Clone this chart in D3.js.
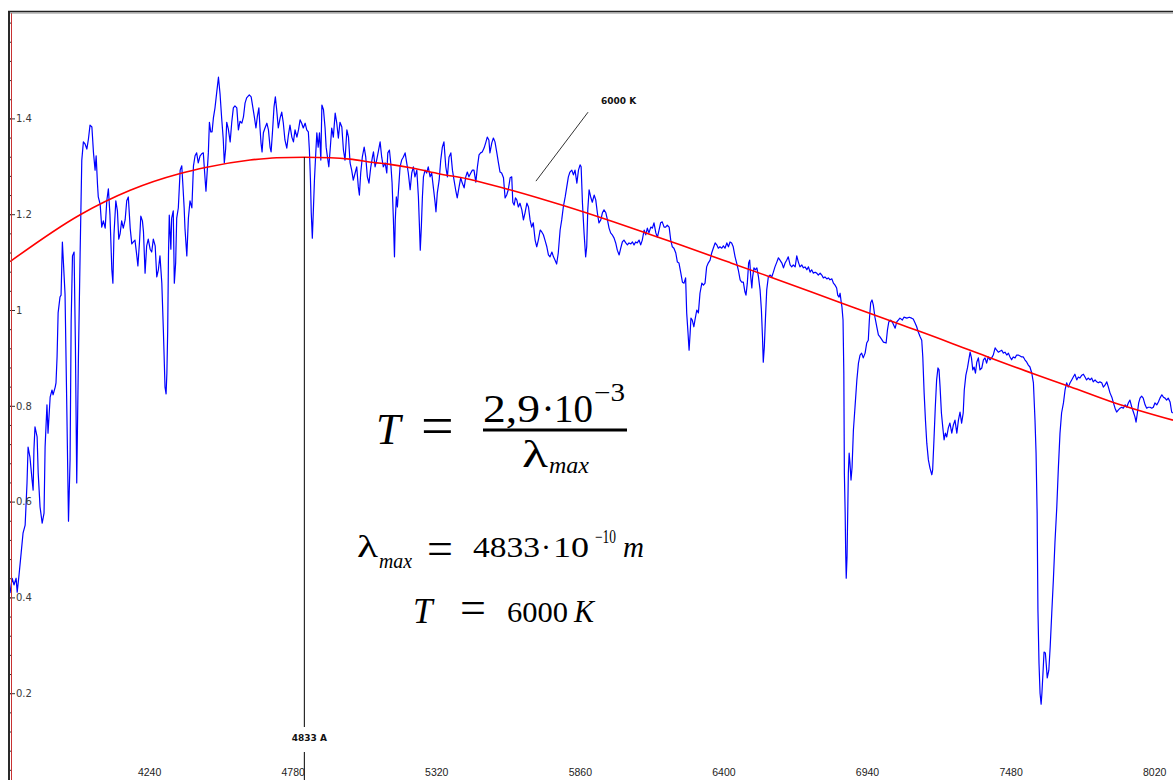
<!DOCTYPE html>
<html>
<head>
<meta charset="utf-8">
<script src="https://cdn.jsdelivr.net/npm/d3@7"></script>
<style>
  html, body { margin: 0; padding: 0; background: #ffffff; }
  svg { display: block; }
</style>
</head>
<body>
<svg id="chart" width="1173" height="780"></svg>
<script>
// Measured stellar spectrum: [wavelength (Å), relative flux]
const spectrum = [
[3726,.409],[3734,.440],[3741,.426],[3749,.440],[3753,.411],[3760,.447],[3768,.493],[3775,.534],[3783,.551],[3790,.639],[3794,.714],[3801,.693],[3809,.645],[3813,.624],[3816,.708],[3820,.756],[3828,.735],[3832,.660],[3839,.589],[3847,.555],[3854,.576],[3858,.714],[3865,.802],[3869,.743],[3877,.818],[3884,.833],[3888,.823],[3896,.839],[3899,.848],[3903,.902],[3907,.994],[3914,1.027],[3918,1.031],
[3923,1.142],[3933,1.033],[3940,.783],[3946,.559],[3952,.689],[3956,.977],[3961,1.113],[3967,1.121],[3972,.927],[3977,.639],[3983,.889],[3990,1.127],[3996,1.313],[4002,1.351],[4008,1.347],[4015,1.336],[4021,1.357],[4027,1.386],[4034,1.382],[4040,1.328],[4046,1.292],[4050,1.322],[4055,1.263],[4058,1.236],[4065,1.221],[4071,1.173],[4077,1.186],[4084,1.171],[4090,1.228],[4096,1.253],[4102,1.198],[4109,1.084],[4113,1.056],[4117,1.157],[4124,1.228],[4130,1.207],[4135,1.148],[4140,1.159],[4146,1.186],[4152,1.171],[4159,1.188],[4165,1.228],[4171,1.236],[4178,1.171],[4184,1.138],[4190,1.142],[4196,1.146],[4203,1.113],[4207,1.092],[4213,1.142],[4218,1.196],[4224,1.186],[4228,1.163],[4234,1.077],[4240,1.134],[4246,1.148],[4253,1.127],[4259,1.121],[4265,1.148],[4272,1.134],[4278,1.069],[4284,1.084],[4290,1.113],[4297,1.056],[4303,.954],[4309,.839],[4313,.825],[4316,.868],[4319,.954],[4322,1.113],[4325,1.198],[4331,1.127],[4334,1.192],[4340,1.207],[4344,1.056],[4349,1.098],[4353,1.192],[4359,1.213],[4366,1.292],[4372,1.301],[4376,1.263],[4381,1.213],[4384,1.171],[4391,1.113],[4397,1.192],[4403,1.228],[4410,1.213],[4416,1.301],[4422,1.322],[4428,1.328],[4434,1.307],[4441,1.322],[4447,1.326],[4453,1.328],[4460,1.271],[4463,1.248],[4468,1.292],[4472,1.328],[4476,1.392],[4481,1.372],[4486,1.372],[4491,1.401],[4497,1.422],[4504,1.457],[4510,1.486],[4516,1.451],[4522,1.401],[4528,1.357],[4532,1.307],[4537,1.336],[4541,1.392],[4547,1.378],[4554,1.351],[4560,1.392],[4566,1.422],[4572,1.426],[4579,1.422],[4585,1.376],[4591,1.394],
[4598,1.390],[4604,1.403],[4610,1.432],[4616,1.443],[4626,1.449],[4633,1.445],[4639,1.424],[4645,1.403],[4651,1.380],[4656,1.403],[4662,1.422],[4666,1.382],[4670,1.349],[4674,1.330],[4679,1.370],[4685,1.380],[4692,1.390],[4698,1.376],[4704,1.340],[4708,1.330],[4713,1.370],[4719,1.424],[4724,1.445],[4729,1.418],[4735,1.380],[4742,1.401],[4748,1.413],[4754,1.390],[4760,1.355],[4767,1.338],[4773,1.365],[4779,1.386],[4786,1.361],[4792,1.351],[4798,1.376],[4805,1.361],[4811,1.376],[4817,1.397],[4823,1.390],[4829,1.380],[4836,1.390],[4842,1.376],[4848,1.372],[4852,1.334],[4856,1.271],[4859,1.203],[4863,1.150],[4867,1.209],[4871,1.271],[4876,1.328],[4880,1.370],[4885,1.340],[4890,1.370],[4895,1.313],[4899,1.428],[4905,1.418],[4911,1.380],[4915,1.340],[4920,1.319],[4925,1.299],[4930,1.334],[4936,1.380],[4942,1.361],[4949,1.411],[4955,1.390],[4961,1.359],[4967,1.392],[4974,1.382],[4980,1.334],[4986,1.313],[4993,1.376],[4999,1.361],[5005,1.307],[5011,1.292],[5017,1.271],[5024,1.286],[5030,1.299],[5036,1.257],[5040,1.240],[5045,1.286],[5051,1.319],[5058,1.340],[5064,1.319],[5070,1.278],[5076,1.265],[5083,1.299],[5089,1.319],[5093,1.330],[5099,1.299],[5105,1.313],[5111,1.330],[5118,1.351],[5124,1.319],[5130,1.299],[5137,1.307],[5143,1.286],[5147,1.328],[5153,1.334],[5158,1.307],[5163,1.265],[5168,1.188],[5172,1.111],[5175,1.188],[5179,1.236],[5183,1.215],[5188,1.257],[5193,1.299],[5199,1.313],[5205,1.319],[5212,1.328],[5218,1.307],[5224,1.286],[5231,1.251],[5237,1.286],[5243,1.299],[5249,1.278],[5256,1.292],[5262,1.236],[5266,1.173],[5269,1.125],[5273,1.173],[5277,1.236],[5281,1.278],[5287,1.292],[5293,1.286],[5299,1.299],[5306,1.278],[5312,1.286],[5318,1.257],[5325,1.223],[5328,1.205],[5333,1.244],[5340,1.271],[5346,1.313],[5352,1.340],[5358,1.351],[5365,1.299],[5371,1.278],[5377,1.319],[5384,1.328],[5390,1.292],[5396,1.271],[5402,1.251],[5408,1.234],[5415,1.257],[5421,1.276],[5427,1.265],[5434,1.255],[5440,1.278],[5446,1.288],[5452,1.278],[5459,1.286],[5465,1.292],[5471,1.292],[5478,1.267],[5484,1.299],[5490,1.324],[5496,1.328],[5502,1.330],[5509,1.338],[5515,1.349],[5521,1.361],[5527,1.355],[5531,1.328],
[5538,1.349],[5544,1.359],[5550,1.351],[5557,1.328],[5563,1.307],[5569,1.288],[5575,1.286],[5582,1.276],[5588,1.234],[5594,1.240],[5600,1.251],[5607,1.276],[5613,1.278],[5617,1.225],[5622,1.219],[5627,1.234],[5632,1.230],[5638,1.215],[5644,1.223],[5651,1.209],[5657,1.188],[5663,1.203],[5670,1.223],[5676,1.215],[5682,1.188],[5688,1.173],[5694,1.182],[5701,1.146],[5707,1.132],[5713,1.146],[5720,1.167],[5726,1.163],[5732,1.157],[5738,1.146],[5745,1.132],[5751,1.115],[5757,1.111],[5764,1.121],[5770,1.111],[5776,1.104],[5782,1.096],[5788,1.119],[5795,1.167],[5801,1.188],[5807,1.215],[5814,1.236],[5820,1.257],[5826,1.278],[5832,1.288],[5839,1.292],[5845,1.282],[5851,1.292],[5858,1.265],[5864,1.292],[5870,1.303],[5874,1.299],[5879,1.223],[5885,1.161],[5891,1.111],[5895,1.132],[5899,1.209],[5904,1.251],[5910,1.236],[5916,1.225],[5923,1.240],[5929,1.230],[5935,1.203],[5941,1.182],[5948,1.188],[5954,1.203],[5960,1.209],[5967,1.203],[5973,1.188],[5979,1.171],[5985,1.161],[5991,1.157],[5998,1.150],[6004,1.140],[6010,1.125],[6017,1.115],[6023,1.129],[6029,1.142],[6035,1.146],[6042,1.140],[6048,1.136],[6054,1.140],[6061,1.138],[6067,1.142],[6073,1.136],[6079,1.142],[6085,1.140],[6092,1.146],[6098,1.136],[6104,1.146],[6111,1.167],[6117,1.157],[6123,1.171],[6129,1.161],[6136,1.173],[6142,1.171],[6148,1.182],[6155,1.161],[6161,1.152],[6167,1.167],[6173,1.182],[6179,1.184],[6186,1.173],[6192,1.173],[6198,1.177],[6205,1.173],[6211,1.146],[6217,1.132],[6223,1.129],[6230,1.119],[6236,1.100],[6242,1.098],[6249,1.077],[6255,1.058],[6261,1.056],[6267,1.067],[6271,.994],[6276,.952],[6280,.916],[6284,.952],[6287,.983],[6292,.979],[6298,.965],[6302,.979],[6309,1.000],[6315,.994],[6321,1.035],[6328,1.056],[6334,1.052],[6340,1.056],[6346,1.090],[6352,1.098],[6359,1.104],[6365,1.119],[6371,1.129],[6378,1.140],[6384,1.136],[6390,1.129],[6396,1.132],
[6403,1.129],[6409,1.134],[6415,1.129],[6422,1.140],[6428,1.132],[6434,1.142],[6440,1.140],[6446,1.132],[6453,1.111],[6459,1.098],[6465,1.084],[6472,1.063],[6478,1.058],[6484,1.058],[6490,1.038],[6494,1.031],[6499,1.056],[6504,1.098],[6508,1.104],[6512,1.069],[6516,1.046],[6519,1.069],[6524,1.088],[6529,1.084],[6535,1.088],[6541,1.069],[6547,1.042],[6552,1.000],[6556,.944],[6559,.891],[6563,.923],[6567,.979],[6572,1.042],[6578,1.069],[6585,1.073],[6591,1.069],[6597,1.079],[6603,1.090],[6610,1.100],[6616,1.109],[6622,1.104],[6629,1.098],[6635,1.088],[6641,1.098],[6647,1.104],[6653,1.111],[6660,1.094],[6666,1.090],[6672,1.094],[6679,1.090],[6685,1.113],[6691,1.100],[6697,1.090],[6704,1.094],[6710,1.088],[6716,1.090],[6723,1.084],[6729,1.090],[6735,1.079],[6741,1.084],[6747,1.077],[6754,1.079],[6760,1.077],[6766,1.073],[6773,1.077],[6779,1.073],[6785,1.067],[6791,1.069],[6798,1.065],[6804,1.067],[6810,1.063],[6817,1.065],[6823,1.056],[6829,1.052],[6835,1.046],[6839,1.031],[6844,1.027],[6848,1.035],[6852,1.017],[6855,1.006],[6859,.979],[6862,.868],[6864,.660],[6867,.576],[6869,.493],[6871,.440],[6874,.484],[6877,.589],[6879,.660],[6882,.701],[6885,.681],[6889,.645],[6893,.672],[6898,.749],[6904,.797],[6911,.854],[6917,.889],[6923,.906],[6929,.910],[6935,.900],[6942,.910],[6948,.931],[6954,.937],[6958,.979],[6963,1.015],[6968,1.021],[6973,1.010],[6979,.985],[6986,.965],[6992,.948],
[6998,.944],[7011,.933],[7021,.931],[7026,.958],[7031,.975],[7038,.979],[7046,.973],[7055,.962],[7061,.975],[7067,.979],[7073,.983],[7082,.979],[7088,.985],[7099,.983],[7108,.985],[7117,.983],[7123,.981],[7130,.973],[7136,.965],[7142,.954],[7149,.944],[7155,.937],[7159,.902],[7164,.827],[7169,.770],[7174,.722],[7180,.687],[7186,.670],[7193,.656],[7196,.666],[7201,.729],[7206,.797],[7211,.854],[7216,.879],[7220,.875],[7224,.839],[7229,.785],[7234,.756],[7239,.729],[7244,.743],[7249,.735],[7255,.754],[7261,.764],[7268,.743],[7274,.760],[7280,.770],[7287,.743],[7293,.770],[7299,.787],[7305,.764],[7311,.785],[7315,.833],[7321,.864],[7327,.879],[7332,.896],[7337,.912],[7342,.900],[7347,.875],[7352,.881],[7357,.868],[7362,.891],[7368,.900],[7374,.875],[7381,.879],[7387,.896],[7393,.900],[7399,.889],[7405,.902],[7412,.896],[7418,.900],[7424,.906],[7431,.921],[7437,.916],[7443,.912],[7449,.914],[7456,.916],[7462,.910],[7468,.912],[7475,.906],[7481,.910],[7487,.902],[7493,.896],[7499,.902],[7506,.900],[7512,.906],[7518,.906],[7525,.904],[7531,.902],[7537,.902],[7543,.896],[7550,.891],[7556,.885],[7562,.881],[7569,.868],[7575,.848],[7581,.770],[7585,.701],[7589,.576],[7592,.374],[7596,.263],[7600,.200],[7604,.177],[7607,.200],[7611,.242],[7615,.286],[7620,.284],[7624,.255],[7627,.232],[7633,.248],[7638,.296],[7644,.367],[7650,.436],[7656,.514],[7663,.589],[7669,.672],[7675,.743],[7681,.785],[7688,.806],[7694,.833],[7700,.848],[7706,.839],[7713,.848],[7719,.854],[7725,.860],[7731,.866],[7738,.854],[7744,.860],[7750,.858],[7757,.864],[7763,.866],[7769,.860],[7775,.854],[7781,.858],[7788,.854],[7794,.858],[7800,.850],[7807,.854],[7813,.850],[7819,.848],[7825,.850],[7832,.848],[7838,.839],[7844,.843],[7851,.850],[7857,.839],[7863,.827],[7870,.818],[7876,.806],[7882,.795],[7888,.787],[7894,.791],[7901,.795],[7907,.797],[7913,.795],[7920,.802],[7926,.797],[7932,.806],[7938,.812],[7945,.797],[7951,.787],[7957,.777],[7961,.766],[7966,.785],[7971,.806],[7976,.816],[7982,.820],[7988,.816],[7995,.802],[8001,.795],[8007,.797],[8014,.797],[8020,.795],[8026,.797],[8032,.806],[8039,.802],[8045,.808],[8051,.816],[8058,.823],[8064,.818],[8070,.816],[8076,.812],[8082,.816],[8089,.808],[8095,.787],[8099,.785]
];

// 6000 K blackbody curve: [wavelength (Å), relative flux]
const blackbody = [
[3726,1.101],[3990,1.199],[4178,1.250],[4366,1.285],[4466,1.298],[4629,1.313],[4729,1.318],[4833,1.319],[4930,1.318],[5005,1.315],[5093,1.308],[5155,1.304],[5243,1.296],[5343,1.284],[5444,1.274],[5531,1.262],[5619,1.249],[5807,1.218],[5995,1.184],[6121,1.160],[6246,1.136],[6434,1.099],[6585,1.069],[6855,1.014],[7073,0.970],[7149,0.955],[7337,0.916],[7575,0.867],[7713,0.840],[7876,0.807],[8100,0.770]
];

const xTickValues = [4240, 4780, 5320, 5860, 6400, 6940, 7480, 8020];
const yMajorTicks = [0.2, 0.4, 0.6, 0.8, 1.0, 1.2, 1.4];
const yTickLabels = ["0.2", "0.4", "0.6", "0.8", "1", "1.2", "1.4"];
const yMinorTicks = d3.range(1, 41).map(i => +(i * 0.04).toFixed(2));

const peakWavelength = 4833;
const peakFlux = 1.319;
const peakLabel = "4833 A";
const tempLabel = "6000 K";
const tempLeader = [[5900, 1.413], [5704, 1.269]];
const tempLabelPos = [5949, 1.430];

const svg = d3.select("#chart");
const W = 1173, H = 780;
const frame = { left: 10, top: 12, right: 1173, bottom: 780 };

const x = d3.scaleLinear().domain([3726, 8100]).range([frame.left, frame.right]);
const y = d3.scaleLinear().domain([0, 1.6]).range([789, 22.6]);

svg.append("rect").attr("width", W).attr("height", H).attr("fill", "#ffffff");

svg.append("defs").append("clipPath").attr("id", "plot-clip")
  .append("rect")
  .attr("x", frame.left).attr("y", frame.top)
  .attr("width", frame.right - frame.left).attr("height", frame.bottom - frame.top);

const plot = svg.append("g").attr("clip-path", "url(#plot-clip)");

// spectrum
plot.append("path")
  .datum(spectrum)
  .attr("fill", "none")
  .attr("stroke", "#0000ff")
  .attr("stroke-width", 1.2)
  .attr("stroke-linejoin", "round")
  .attr("d", d3.line().x(d => x(d[0])).y(d => y(d[1])));

// blackbody fit
plot.append("path")
  .datum(blackbody)
  .attr("fill", "none")
  .attr("stroke", "#ff0000")
  .attr("stroke-width", 1.6)
  .attr("d", d3.line().x(d => x(d[0])).y(d => y(d[1])).curve(d3.curveMonotoneX));

// wavelength of maximum
const px = x(peakWavelength);
plot.append("line")
  .attr("x1", px).attr("x2", px)
  .attr("y1", y(peakFlux)).attr("y2", 727)
  .attr("stroke", "#000").attr("stroke-width", 1);
plot.append("line")
  .attr("x1", px).attr("x2", px)
  .attr("y1", 752).attr("y2", H)
  .attr("stroke", "#000").attr("stroke-width", 1);
svg.append("text")
  .attr("x", px + 5).attr("y", 741)
  .attr("text-anchor", "middle")
  .attr("font-family", "DejaVu Sans, sans-serif")
  .attr("font-weight", "bold")
  .attr("font-size", 9)
  .attr("fill", "#111")
  .text(peakLabel);

// temperature annotation
svg.append("line")
  .attr("x1", x(tempLeader[0][0])).attr("y1", y(tempLeader[0][1]))
  .attr("x2", x(tempLeader[1][0])).attr("y2", y(tempLeader[1][1]))
  .attr("stroke", "#333").attr("stroke-width", 1);
svg.append("text")
  .attr("x", x(tempLabelPos[0])).attr("y", y(tempLabelPos[1]))
  .attr("font-family", "DejaVu Sans, sans-serif")
  .attr("font-weight", "bold")
  .attr("font-size", 9)
  .attr("fill", "#111")
  .text(tempLabel);

// left axis
svg.append("g")
  .attr("transform", `translate(${frame.left - 1},0)`)
  .call(d3.axisRight(y).tickValues(yMinorTicks).tickSize(3).tickFormat(""))
  .call(g => g.select(".domain").remove())
  .call(g => g.selectAll("line").attr("stroke", "#333"));

svg.append("g")
  .attr("transform", `translate(${frame.left - 1},0)`)
  .call(d3.axisRight(y).tickValues(yMajorTicks).tickSize(6).tickPadding(1)
    .tickFormat((d, i) => yTickLabels[i]))
  .call(g => g.select(".domain").remove())
  .call(g => g.selectAll("line").attr("stroke", "#333"))
  .call(g => g.selectAll("text")
    .attr("font-family", "DejaVu Sans, sans-serif")
    .attr("font-size", 10)
    .attr("fill", "#3a3a3a"));

// bottom axis labels
svg.append("g")
  .attr("transform", "translate(0,769)")
  .call(d3.axisBottom(x).tickValues(xTickValues).tickSize(0).tickPadding(0)
    .tickFormat(d3.format("d")))
  .call(g => g.select(".domain").remove())
  .call(g => g.selectAll("text")
    .attr("dx", 2.4)
    .attr("font-family", "Liberation Sans, Arial, sans-serif")
    .attr("font-size", 10.5)
    .attr("fill", "#222"));

// frame
svg.append("line").attr("x1", 9).attr("x2", 9).attr("y1", 11).attr("y2", H)
  .attr("stroke", "#2a2a2a").attr("stroke-width", 2);
svg.append("line").attr("x1", 11.5).attr("x2", 11.5).attr("y1", 13).attr("y2", H)
  .attr("stroke", "#c83232").attr("stroke-width", 1);
svg.append("line").attr("x1", 8).attr("x2", W).attr("y1", 11.5).attr("y2", 11.5)
  .attr("stroke", "#222").attr("stroke-width", 1.5);
svg.append("line").attr("x1", 10).attr("x2", W).attr("y1", 13).attr("y2", 13)
  .attr("stroke", "#8a8a8a").attr("stroke-width", 1);

// Wien's law
const eq = svg.append("g")
  .attr("font-family", "Liberation Serif, Times New Roman, serif")
  .attr("fill", "#000");

function put(str, px, py, size, opt = {}) {
  const t = eq.append("text")
    .attr("x", px).attr("y", py)
    .attr("font-size", size)
    .text(str);
  if (opt.italic) t.attr("font-style", "italic");
  if (opt.anchor) t.attr("text-anchor", opt.anchor);
  if (opt.len) t.attr("textLength", opt.len).attr("lengthAdjust", "spacingAndGlyphs");
  return t;
}

// T = 2,9·10^-3 / λmax
put("T", 376, 444, 44, { italic: true });
put("=", 421, 444.5, 58);
put("2,9", 483, 422, 39, { len: 57 });
put("\u00B7", 548, 422, 39, { anchor: "middle" });
put("10", 554, 422, 39, { len: 39 });
put("\u22123", 594, 401, 25, { len: 31 });
eq.append("line").attr("x1", 483).attr("x2", 627).attr("y1", 430).attr("y2", 430)
  .attr("stroke", "#000").attr("stroke-width", 3);
put("\u03BB", 522, 467, 37, { len: 26 });
put("max", 549, 473, 24, { italic: true, len: 40 });

// λmax = 4833·10^-10 m
put("\u03BB", 357, 557, 31, { len: 21 });
put("max", 379, 568, 21, { italic: true, len: 33 });
put("=", 427, 564, 46);
put("4833", 473, 557, 30, { len: 67 });
put("\u00B7", 546, 557, 30, { anchor: "middle" });
put("10", 553, 557, 30, { len: 36 });
put("\u221210", 595, 543, 18, { len: 21 });
put("m", 623, 557, 30, { italic: true, len: 21 });

// T = 6000 K
put("T", 413, 623, 35, { italic: true });
put("=", 460, 623, 46);
put("6000", 507, 622, 30, { len: 61 });
put("K", 574, 622, 31, { italic: true, len: 20 });
</script>
</body>
</html>
